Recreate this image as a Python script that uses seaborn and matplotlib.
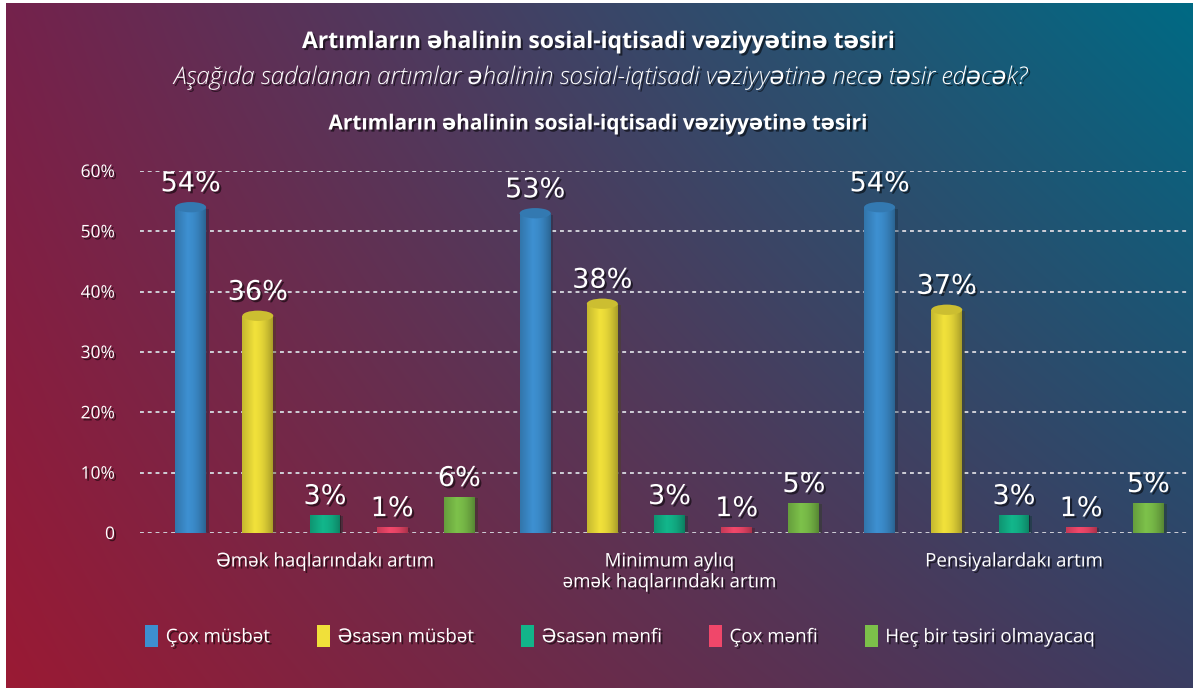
import numpy as np
import pandas as pd
import seaborn as sns
import matplotlib.pyplot as plt
import matplotlib.patheffects as pe
from matplotlib.patches import Ellipse, Patch

# --- data ---
categories = ["Əmək haqlarındakı artım",
              "Minimum aylıq\nəmək haqlarındakı artım",
              "Pensiyalardakı artım"]
answers = ["Çox müsbət", "Əsasən müsbət", "Əsasən mənfi", "Çox mənfi",
           "Heç bir təsiri olmayacaq"]
cox_musbet = [54, 53, 54]
esasen_musbet = [36, 38, 37]
esasen_menfi = [3, 3, 3]
cox_menfi = [1, 1, 1]
hec_bir = [6, 5, 5]
yticks = [0, 10, 20, 30, 40, 50, 60]
ytick_labels = ["0", "10%", "20%", "30%", "40%", "50%", "60%"]

colors = ["#3d8fd0", "#f0e03a", "#12b58a", "#f0476a", "#7cc04a"]
cylinder = [True, True, False, False, False]

series = [cox_musbet, esasen_musbet, esasen_menfi, cox_menfi, hec_bir]
rows = []
for ans, vals in zip(answers, series):
    for cat, v in zip(categories, vals):
        rows.append({"cat": cat, "ans": ans, "val": v})
df = pd.DataFrame(rows)

sns.set_theme(style="white")
plt.rcParams['font.family'] = ['Open Sans', 'DejaVu Sans']

W, H = 1197, 688
fig = plt.figure(figsize=(W / 100, H / 100), dpi=100, facecolor="white")

# --- gradient background ---
tl = np.array([0x74, 0x22, 0x4c]) / 255
tr = np.array([0x00, 0x6a, 0x84]) / 255
bl = np.array([0x9a, 0x1a, 0x34]) / 255
br = np.array([0x3a, 0x3d, 0x62]) / 255
gx = np.linspace(0, 1, 300)[None, :, None]
gy = np.linspace(0, 1, 200)[:, None, None]
grad = (1 - gy) * ((1 - gx) * tl + gx * tr) + gy * ((1 - gx) * bl + gx * br)
bg = fig.add_axes([6 / W, 0, 1187 / W, 1 - 3 / H], zorder=-1)
bg.imshow(grad, aspect="auto", interpolation="bilinear")
bg.axis("off")

shadow = [pe.SimplePatchShadow(offset=(1.5, -1.5), shadow_rgbFace="black", alpha=0.55), pe.Normal()]

ax = fig.add_axes([140 / W, (H - 533) / H, 1050 / W, 362 / H])
ax.set_facecolor("none")
sns.barplot(data=df, x="cat", y="val", hue="ans", order=categories, hue_order=answers,
            palette=colors, width=0.975, gap=0.54, saturation=1, ax=ax, legend=False,
            linewidth=0, zorder=3)

ax.set_ylim(0, 60)
ax.set_xlim(-0.537, 2.511)
ax.set_yticks(yticks)
ax.set_yticklabels(ytick_labels)
for y in yticks:
    ax.axhline(y, color="#d0d0d8", lw=1.4, ls=(0, (2, 2)), zorder=1)
for s in ax.spines.values():
    s.set_visible(False)
ax.tick_params(axis="y", length=0, pad=18, labelsize=12.5, labelcolor="white")
ax.tick_params(axis="x", length=0, pad=14, labelsize=13.5, labelcolor="white")
for t in ax.get_yticklabels() + ax.get_xticklabels():
    t.set_path_effects(shadow)
ax.set_xlabel("")
ax.set_ylabel("")

# shading + cylinder tops + value labels
prof = np.linspace(0, 1, 64)
alpha = np.where(prof < 0.4, 0.18 * (1 - prof / 0.4), 0.3 * ((prof - 0.4) / 0.6) ** 1.8)
shade = np.zeros((1, 64, 4))
shade[..., 3] = alpha
for i, cont in enumerate(ax.containers):
    for bar, v in zip(cont, series[i]):
        x0, w, h = bar.get_x(), bar.get_width(), bar.get_height()
        im = ax.imshow(shade, extent=(x0, x0 + w, 0, h), aspect="auto", zorder=4,
                       interpolation="bilinear")
        im.set_clip_path(bar)
        bar.set_path_effects([pe.SimplePatchShadow(offset=(2, -1), alpha=0.35), pe.Normal()])
        top = h
        if cylinder[i]:
            ax.add_patch(Ellipse((x0 + w / 2, h), w, 1.7, facecolor=colors[i],
                                 edgecolor="none", zorder=5))
            ax.add_patch(Ellipse((x0 + w / 2, h), w, 1.7, facecolor="black", alpha=0.15,
                                 edgecolor="none", zorder=6))
            top = h + 0.85
        ax.text(x0 + w / 2, top + 0.8, f"{v}%", ha="center", va="bottom", fontsize=19.5,
                color="white", family="DejaVu Sans", path_effects=shadow, zorder=7)
ax.set_xlim(-0.537, 2.511)
ax.set_ylim(0, 60)

# titles
fig.text(0.5, 1 - 42 / H, "Artımların əhalinin sosial-iqtisadi vəziyyətinə təsiri",
         ha="center", va="center", fontsize=16.5, fontweight="bold", color="white",
         path_effects=shadow)
fig.text(0.5, 1 - 78 / H, "Aşağıda sadalanan artımlar əhalinin sosial-iqtisadi vəziyyətinə necə təsir edəcək?",
         ha="center", va="center", fontsize=17.5, style="italic", fontweight="light",
         color="white", path_effects=shadow)
fig.text(0.5, 1 - 124 / H, "Artımların əhalinin sosial-iqtisadi vəziyyətinə təsiri",
         ha="center", va="center", fontsize=15, fontweight="bold", color="white",
         path_effects=shadow)

# legend
handles = [Patch(facecolor=c, edgecolor="none") for c in colors]
leg = fig.legend(handles, answers, loc="center", bbox_to_anchor=(0.518, 1 - 636 / H), ncol=5,
                 frameon=False, fontsize=13.5, handlelength=0.7, handleheight=1.5,
                 handletextpad=0.4, columnspacing=2.5)
for t in leg.get_texts():
    t.set_color("white")
    t.set_path_effects(shadow)

fig.savefig("out.png", dpi=100, facecolor="white")
